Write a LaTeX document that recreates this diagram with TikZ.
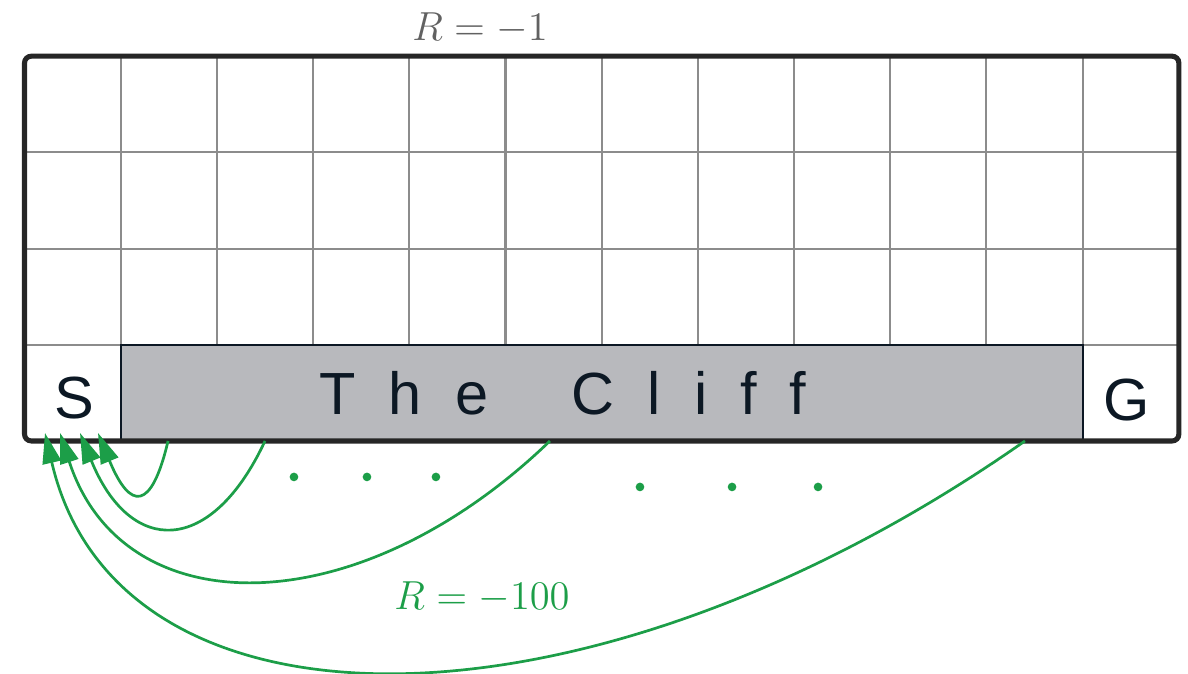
\documentclass[tikz,border=0pt]{standalone}
\usepackage{fontspec}
\newfontfamily\cellfont{Liberation Sans}
\usepackage{xcolor}
\usepackage{tikz}
\usetikzlibrary{positioning,arrows.meta}
\definecolor{cliffgray}{RGB}{184,185,189}
\definecolor{fallgreen}{RGB}{28,158,72}
\definecolor{inkblue}{RGB}{12,24,36}
\definecolor{gridgray}{RGB}{140,140,140}

\begin{document}
\begin{tikzpicture}[x=1cm,y=1cm,
  cell/.style={font=\cellfont\fontsize{17.6}{20}\selectfont,text=inkblue,inner sep=0pt},
  jump/.style={draw=fallgreen,line width=0.8pt,-{Triangle[length=9pt,width=5.5pt]}},
  reward/.style={font=\fontsize{12}{14}\selectfont,inner sep=0pt}]
\useasboundingbox (-0.255,-2.422) rectangle (12.095,4.584);
% grid world
\foreach \x in {1,...,11} \draw[gridgray,line width=0.6pt] (\x,0) -- (\x,4);
\foreach \y in {1,2,3} \draw[gridgray,line width=0.6pt] (0,\y) -- (12,\y);
\draw[fill=cliffgray,draw=inkblue,line width=0.6pt] (1,0) rectangle (11,1);
\draw[black!85,line width=1.5pt,rounded corners=2pt] (0,0) rectangle (12,4);
% cells
\node[cell] (start) at (0.515,0.447) {S};
\node[cell] (goal) at (11.46,0.426) {G};
\node[cell] (cliff) at (5.593,0.494) {\addfontfeature{LetterSpace=56}The\ \hspace{0.56em}Cliff};
% falling off the cliff
\coordinate (s1) at (1.492,0);  \coordinate (t1) at (0.764,0.083);
\coordinate (s2) at (2.5,0);    \coordinate (t2) at (0.577,0.083);
\coordinate (s3) at (5.462,0);  \coordinate (t3) at (0.369,0.083);
\coordinate (s4) at (10.4,0);   \coordinate (t4) at (0.213,0.083);
\draw[jump] (s1) .. controls (1.32,-0.73) and (1.10,-0.73) .. (t1);
\draw[jump] (s2) .. controls (1.94,-1.2) and (1.10,-1.2) .. (t2);
\draw[jump] (s3) .. controls (3.46,-1.93) and (1.02,-1.93) .. (t3);
\draw[jump] (s4) .. controls (5.85,-3.19) and (0.97,-3.19) .. (t4);
\foreach \x/\y in {2.801/-0.374,3.560/-0.374,4.277/-0.374,6.398/-0.478,7.355/-0.478,8.249/-0.478}
  \fill[fallgreen] (\x,\y) circle (0.045);
% labels
\node[reward,text=black!62] (stepcost) at (4.735,4.293) {$R=-1$};
\node[reward,text=fallgreen] (fallcost) at (4.756,-1.622) {$R=-100$};
\end{tikzpicture}
\end{document}
